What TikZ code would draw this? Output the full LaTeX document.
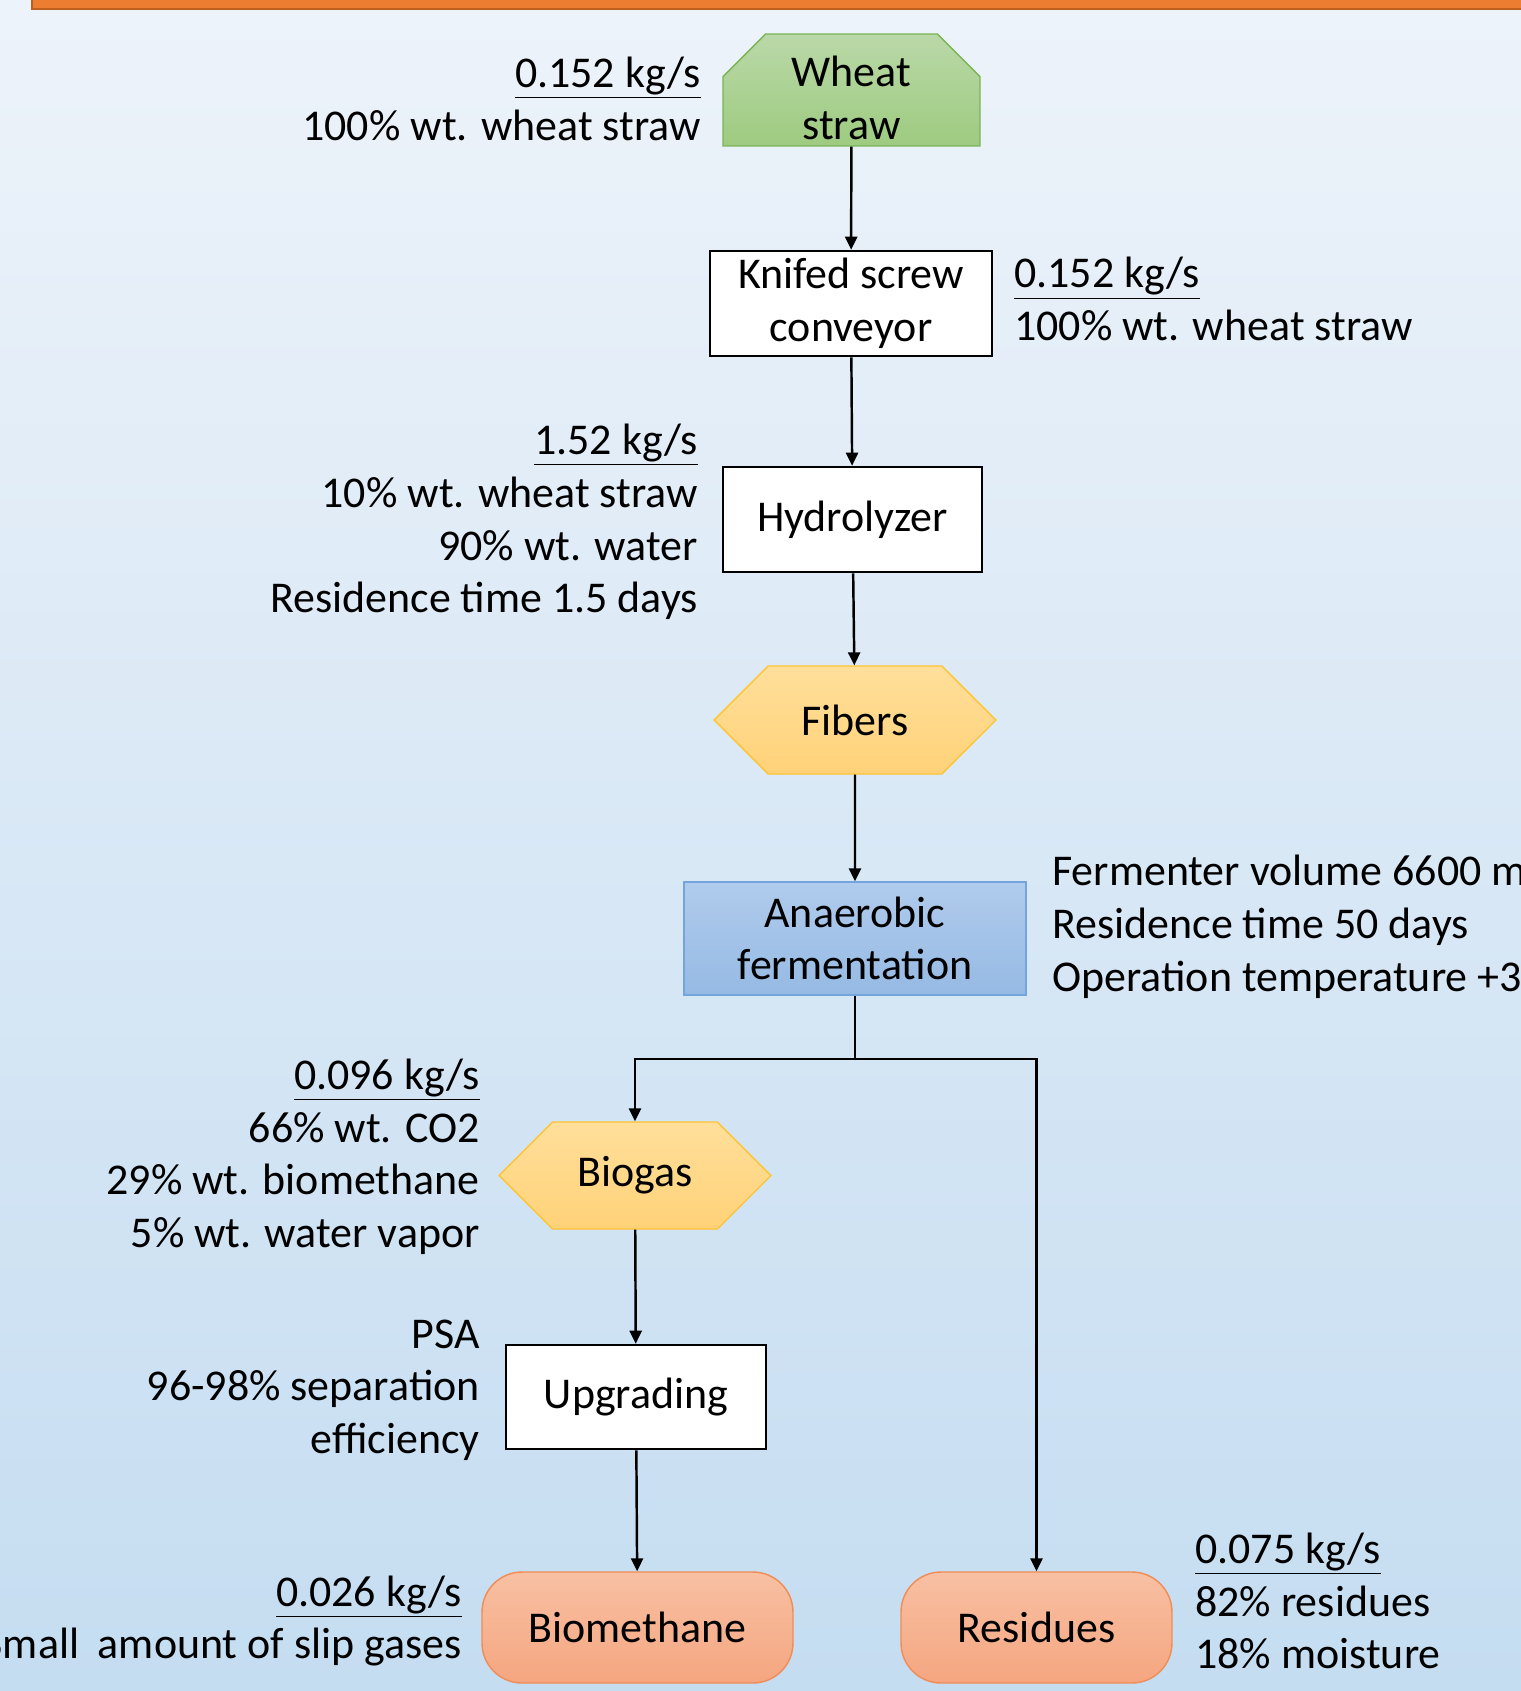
\documentclass[tikz,border=0pt]{standalone}
\usepackage{fontspec}
\setmainfont{Carlito}
\usetikzlibrary{arrows.meta,shapes.misc,shapes.symbols}
\definecolor{bgtop}{RGB}{237,243,250}
\definecolor{bgbot}{RGB}{197,221,241}
\definecolor{barorange}{RGB}{237,125,49}
\definecolor{bardark}{RGB}{190,95,30}
\definecolor{greentop}{RGB}{186,216,168}
\definecolor{greenbot}{RGB}{158,203,128}
\definecolor{greenline}{RGB}{120,180,85}
\definecolor{yelltop}{RGB}{255,223,155}
\definecolor{yellbot}{RGB}{255,210,120}
\definecolor{yellline}{RGB}{255,196,50}
\definecolor{bluetop}{RGB}{176,203,236}
\definecolor{bluebot}{RGB}{150,186,228}
\definecolor{blueline}{RGB}{115,165,220}
\definecolor{peachtop}{RGB}{248,192,163}
\definecolor{peachbot}{RGB}{245,166,128}
\definecolor{peachline}{RGB}{240,140,85}
\begin{document}
\begin{tikzpicture}[x=0.02cm,y=-0.02cm,
  every node/.style={font=\fontsize{25}{30}\selectfont},
  box/.style={draw,line width=1.5pt,fill=white,inner sep=0pt,align=center},
  feed/.style={chamfered rectangle,chamfered rectangle corners={north west,north east},
    chamfered rectangle xsep=0.74cm,draw=greenline,line width=0.8pt,
    top color=greentop,bottom color=greenbot,inner sep=0pt,align=center},
  hexa/.style={signal,signal to=east and west,draw=yellline,line width=0.8pt,
    top color=yelltop,bottom color=yellbot,inner sep=0pt},
  reactor/.style={draw=blueline,line width=0.8pt,top color=bluetop,bottom color=bluebot,
    inner sep=0pt,align=center},
  product/.style={rounded corners=0.8cm,draw=peachline,line width=0.8pt,
    top color=peachtop,bottom color=peachbot,inner sep=0pt},
  info/.style={inner sep=0pt,yshift=-1.5pt},
  flow/.style={line width=1.4pt,-{Triangle[length=0.26cm,width=0.24cm]}}]
	\useasboundingbox (0,0) rectangle (1521,1691);
	\shade[top color=bgtop,bottom color=bgbot] (0,0) rectangle (1521,1691);
	\fill[barorange] (32,0) rectangle (1521,9);
	\draw[bardark,line width=1pt] (32,0) -- (32,9) -- (1521,9);

	% process chain
	\node[feed,minimum width=5.14cm,minimum height=2.24cm] (wheat) at (851.5,90) {\rule{0pt}{26pt}Wheat\\straw};
	\node[box,minimum width=5.64cm,minimum height=2.1cm] (knife) at (851,303.5) {Knifed screw\\conveyor};
	\node[box,minimum width=5.18cm,minimum height=2.1cm] (hydro) at (852.5,519.5) {Hydrolyzer};
	\node[hexa,minimum width=5.64cm,minimum height=2.16cm] (fibers) at (855,720) {Fibers};
	\node[reactor,minimum width=6.84cm,minimum height=2.26cm] (ferm) at (855,938.5) {Anaerobic\\fermentation};
	\node[hexa,minimum width=5.44cm,minimum height=2.14cm] (biogas) at (635,1175.5) {Biogas};
	\node[box,minimum width=5.2cm,minimum height=2.08cm] (upgr) at (636,1397) {Upgrading};
	\node[product,minimum width=6.22cm,minimum height=2.22cm] (biometh) at (637.5,1627.5) {Biomethane};
	\node[product,minimum width=5.42cm,minimum height=2.22cm] (resid) at (1036.5,1627.5) {Residues};
	\coordinate (split) at (855,1059);

	\draw[flow] (wheat) -- (knife);
	\draw[flow] (knife) -- (hydro);
	\draw[flow] (hydro) -- (fibers);
	\draw[flow] (fibers) -- (ferm);
	\draw[line width=1.4pt] (ferm.south) -- (split);
	\draw[flow] (split) -| (biogas.north);
	\draw[flow] (split) -| (resid.north);
	\draw[flow] (biogas) -- (upgr);
	\draw[flow] (upgr) -- (biometh);

	% stream data
	\node[info,anchor=east,align=right] (feedinfo) at (701,96) {\underline{0.152 kg/s}\\100\% wt. wheat straw};
	\node[info,anchor=west,align=left] (knifeinfo) at (1014,296.5) {\underline{0.152 kg/s}\\100\% wt. wheat straw};
	\node[info,anchor=east,align=right] (hydroinfo) at (698,519.5) {\underline{1.52 kg/s}\\10\% wt. wheat straw\\90\% wt. water\\Residence time 1.5 days};
	\node[info,anchor=west,align=left] (norminfo) at (1052,924) {Fermenter volume 6600 m\\Residence time 50 days\\Operation temperature +3};
	\node[info,anchor=east,align=right] (gasinfo) at (480,1154) {\underline{0.096 kg/s}\\66\% wt. CO2\\29\% wt. biomethane\\5\% wt. water vapor};
	\node[info,anchor=east,align=right] (upgrinfo) at (480,1387.5) {PSA\\96-98\% separation\\efficiency};
	\node[info,anchor=east,align=right] (methinfo) at (462,1618.5) {\underline{0.026 kg/s}\\Small\hspace{5pt}~amount of slip gases};
	\node[info,anchor=west,align=left] (residinfo) at (1195,1598.5) {\underline{0.075 kg/s}\\82\% residues\\18\% moisture};
\end{tikzpicture}
\end{document}
